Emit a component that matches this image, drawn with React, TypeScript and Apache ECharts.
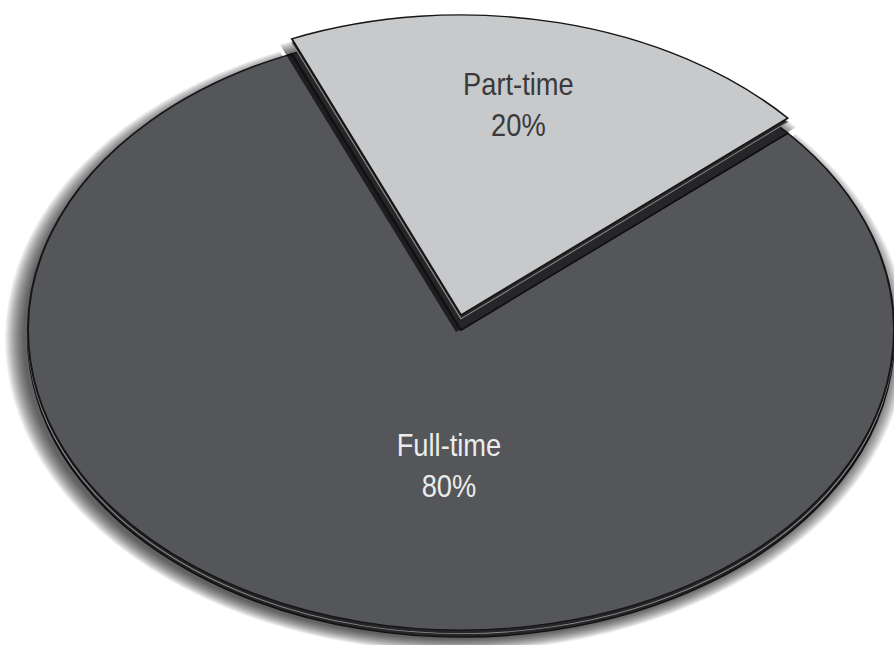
import React, { useEffect, useRef } from "react";
import * as echarts from "echarts";

// ---- data ----
const categories = ["Part-time", "Full-time"];
const values = [20, 80];

// ---- styling ----
const sliceColors = ["#c8c9cb", "#55565a"];
const labelColors = ["#3a3a3a", "#ececec"];
const FONT = "'Liberation Sans', Arial, sans-serif";

// geometry of the tilted pie
const CX = 461;
const CY = 330;
const RX = 433;
const RY = 300;
const K = RY / RX;
const START = -23; // degrees clockwise from 12 o'clock
const LIFT = [15, 0]; // vertical pull-out of each slice
const WALL = [15, 7]; // visible thickness under each slice
const LABEL_R = [0.714, 0.455];
const LABEL_DA = [-2.3, -9.5];
const SHADOW_STEPS = 16;

const toRad = (d: number) => (d * Math.PI) / 180;

export default function App() {
  const ref = useRef<HTMLDivElement>(null);
  useEffect(() => {
    if (!ref.current) return;
    const chart = echarts.init(ref.current, undefined, { renderer: "svg" });
    const total = values.reduce((a, b) => a + b, 0);
    chart.setOption({
      animation: false,
      backgroundColor: "#ffffff",
      series: [
        {
          type: "custom",
          coordinateSystem: "none",
          silent: true,
          data: values.map((v, i) => ({ name: categories[i], value: v })),
          renderItem: (params: any, api: any) => {
            const i = params.dataIndex;
            const v = api.value(0);
            let acc = 0;
            for (let j = 0; j < i; j++) acc += values[j];
            const a0 = START + (acc / total) * 360;
            const a1 = a0 + (v / total) * 360;
            const mid = (a0 + a1) / 2;
            const cx = CX;
            const cy = CY - LIFT[i];
            const base = i === 0 ? 40 : 0;
            const shape = (r: number) => ({
              cx: 0,
              cy: 0,
              r,
              r0: 0,
              startAngle: toRad(a0 - 90),
              endAngle: toRad(a1 - 90),
              clockwise: true,
            });
            const sector = (
              xOff: number,
              yOff: number,
              r: number,
              style: any,
              z2: number
            ) => ({
              type: "group",
              x: cx + xOff,
              y: cy + yOff,
              scaleY: K,
              children: [{ type: "sector", z2, shape: shape(r), style }],
            });
            const wall = WALL[i];
            const shadows = [];
            for (let s = 0; s < SHADOW_STEPS; s++) {
              shadows.push(
                sector(
                  -5,
                  wall + 2,
                  RX + s * 1.2,
                  { fill: "rgba(0,0,0,0.055)" },
                  base + 1
                )
              );
            }
            const la = toRad(mid + LABEL_DA[i]);
            const lr = LABEL_R[i] * RX;
            const lx = cx + Math.sin(la) * lr;
            const ly = cy - Math.cos(la) * lr * K;
            const pct = Math.round((v / total) * 100) + "%";
            return {
              type: "group",
              children: [
                ...shadows,
                sector(
                  0,
                  wall,
                  RX,
                  {
                    fill: "#262628",
                    stroke: "#111111",
                    lineWidth: 2,
                    strokeNoScale: true,
                  },
                  base + 21
                ),
                sector(
                  0,
                  Math.min(wall / 2, 3.8),
                  RX,
                  {
                    fill: "#262628",
                    stroke: "#8a8b8e",
                    lineWidth: 1.3,
                    strokeNoScale: true,
                  },
                  base + 22
                ),
                sector(
                  0,
                  0,
                  RX,
                  {
                    fill: sliceColors[i],
                    stroke: "#161616",
                    lineWidth: 2,
                    strokeNoScale: true,
                  },
                  base + 23
                ),
                {
                  type: "text",
                  x: lx,
                  y: ly,
                  scaleX: 0.88,
                  z2: base + 24,
                  style: {
                    text: categories[i] + "\n" + pct,
                    fill: labelColors[i],
                    fontSize: 31,
                    fontFamily: FONT,
                    lineHeight: 41,
                    align: "center",
                    verticalAlign: "middle",
                  },
                },
              ],
            };
          },
        },
      ],
    });
    return () => chart.dispose();
  }, []);
  return (
    <div
      ref={ref}
      style={{ position: "fixed", left: 0, top: 0, width: 894, height: 645 }}
    />
  );
}
